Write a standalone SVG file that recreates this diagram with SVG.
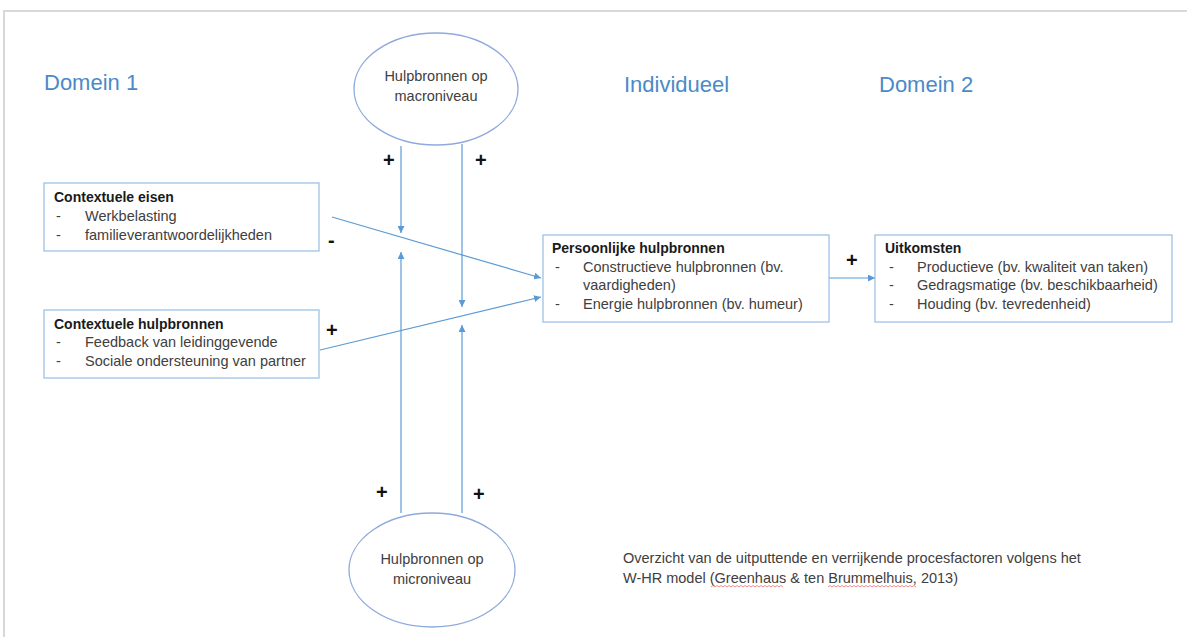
<svg xmlns="http://www.w3.org/2000/svg" width="1187" height="637" viewBox="0 0 1187 637">
<style>
.box{fill:#fff;stroke:#9DC3E6;stroke-width:1.3}
.ell{fill:#fff;stroke:#8FAADC;stroke-width:1.3}
.con{stroke:#5B9BD5;stroke-width:1.2;fill:none}
.t{font-family:"Liberation Sans",Arial,sans-serif;font-size:14.5px;fill:#404040}
.b{font-family:"Liberation Sans",Arial,sans-serif;font-size:14px;font-weight:bold;fill:#1a1a1a}
.h{font-family:"Liberation Sans",Arial,sans-serif;font-size:22px;fill:#4A8AC8}
.s{font-family:"Liberation Sans",Arial,sans-serif;font-size:20px;font-weight:bold;fill:#111}
.sq{stroke:#E87070;stroke-width:0.8;fill:none}
</style>
<defs>
<marker id="ah" viewBox="0 0 10 10" refX="10" refY="5" markerWidth="7" markerHeight="7" markerUnits="userSpaceOnUse" orient="auto">
<path d="M0,0 L10,5 L0,10 z" fill="#5B9BD5"/>
</marker>
</defs>
<rect x="0" y="0" width="1187" height="637" fill="#fff"/>
<rect x="4" y="11" width="1190" height="640" fill="#fff" stroke="#d8d8d8" stroke-width="2"/>

<text class="h" x="44" y="90">Domein 1</text>
<text class="h" x="624" y="92">Individueel</text>
<text class="h" x="879" y="92">Domein 2</text>

<g id="connectors">
<line class="con" x1="401" y1="146" x2="401" y2="233" marker-end="url(#ah)"/>
<line class="con" x1="462" y1="144" x2="462" y2="307" marker-end="url(#ah)"/>
<line class="con" x1="401" y1="513" x2="401" y2="252" marker-end="url(#ah)"/>
<line class="con" x1="462" y1="513" x2="462" y2="325" marker-end="url(#ah)"/>
<line class="con" x1="332" y1="217" x2="541" y2="278" marker-end="url(#ah)"/>
<line class="con" x1="320" y1="350" x2="541" y2="297" marker-end="url(#ah)"/>
<line class="con" x1="829" y1="278" x2="875" y2="278" marker-end="url(#ah)"/>
<text class="s" x="383" y="167">+</text>
<text class="s" x="475" y="167">+</text>
<text class="s" x="376" y="499">+</text>
<text class="s" x="473" y="501">+</text>
<text class="s" x="328" y="247">-</text>
<text class="s" x="326" y="337">+</text>
<text class="s" x="846" y="267">+</text>
</g>

<g id="macro">
<ellipse class="ell" cx="436" cy="89" rx="82" ry="56"/>
<text class="t" x="436" y="81" text-anchor="middle">Hulpbronnen op</text>
<text class="t" x="436" y="101" text-anchor="middle">macroniveau</text>
</g>

<g id="micro">
<ellipse class="ell" cx="432" cy="570" rx="83" ry="57"/>
<text class="t" x="432" y="564" text-anchor="middle">Hulpbronnen op</text>
<text class="t" x="432" y="584" text-anchor="middle">microniveau</text>
</g>

<g id="eisen">
<rect class="box" x="44" y="183" width="275" height="68"/>
<text class="b" x="54" y="202">Contextuele eisen</text>
<text class="t" x="56" y="221">-</text>
<text class="t" x="85" y="221">Werkbelasting</text>
<text class="t" x="56" y="240">-</text>
<text class="t" x="85" y="240">familieverantwoordelijkheden</text>
</g>

<g id="contextuele-hulpbronnen">
<rect class="box" x="44" y="310" width="275" height="68"/>
<text class="b" x="54" y="329">Contextuele hulpbronnen</text>
<text class="t" x="56" y="347">-</text>
<text class="t" x="85" y="347">Feedback van leidinggevende</text>
<text class="t" x="56" y="366">-</text>
<text class="t" x="85" y="366">Sociale ondersteuning van partner</text>
</g>

<g id="persoonlijk">
<rect class="box" x="543" y="235" width="286" height="87"/>
<text class="b" x="552" y="253">Persoonlijke hulpbronnen</text>
<text class="t" x="555" y="272">-</text>
<text class="t" x="583" y="272">Constructieve hulpbronnen (bv.</text>
<text class="t" x="583" y="290">vaardigheden)</text>
<text class="t" x="555" y="309">-</text>
<text class="t" x="583" y="309">Energie hulpbronnen (bv. humeur)</text>
</g>

<g id="uitkomsten">
<rect class="box" x="875" y="235" width="297" height="87"/>
<text class="b" x="885" y="253">Uitkomsten</text>
<text class="t" x="889" y="272">-</text>
<text class="t" x="917" y="272">Productieve (bv. kwaliteit van taken)</text>
<text class="t" x="889" y="290">-</text>
<text class="t" x="917" y="290">Gedragsmatige (bv. beschikbaarheid)</text>
<text class="t" x="889" y="309">-</text>
<text class="t" x="917" y="309">Houding (bv. tevredenheid)</text>
</g>

<g id="caption">
<text class="t" x="623" y="563">Overzicht van de uitputtende en verrijkende procesfactoren volgens het</text>
<text class="t" x="623" y="583">W-HR model (Greenhaus &amp; ten Brummelhuis, 2013)</text>
<path class="sq" d="M711,587 l2,-1.5 l2,1.5 l2,-1.5 l2,1.5 l2,-1.5 l2,1.5 l2,-1.5 l2,1.5 l2,-1.5 l2,1.5 l2,-1.5 l2,1.5 l2,-1.5 l2,1.5 l2,-1.5 l2,1.5 l2,-1.5 l2,1.5 l2,-1.5 l2,1.5 l2,-1.5 l2,1.5 l2,-1.5 l2,1.5 l2,-1.5 l2,1.5 l2,-1.5 l2,1.5 l2,-1.5 l2,1.5 l2,-1.5 l2,1.5 l2,-1.5 l2,1.5 l2,-1.5 l2,1.5"/>
<path class="sq" d="M828,587 l2,-1.5 l2,1.5 l2,-1.5 l2,1.5 l2,-1.5 l2,1.5 l2,-1.5 l2,1.5 l2,-1.5 l2,1.5 l2,-1.5 l2,1.5 l2,-1.5 l2,1.5 l2,-1.5 l2,1.5 l2,-1.5 l2,1.5 l2,-1.5 l2,1.5 l2,-1.5 l2,1.5 l2,-1.5 l2,1.5 l2,-1.5 l2,1.5 l2,-1.5 l2,1.5 l2,-1.5 l2,1.5 l2,-1.5 l2,1.5 l2,-1.5 l2,1.5 l2,-1.5 l2,1.5 l2,-1.5 l2,1.5 l2,-1.5 l2,1.5 l2,-1.5 l2,1.5 l2,-1.5 l2,1.5"/>
</g>
</svg>
